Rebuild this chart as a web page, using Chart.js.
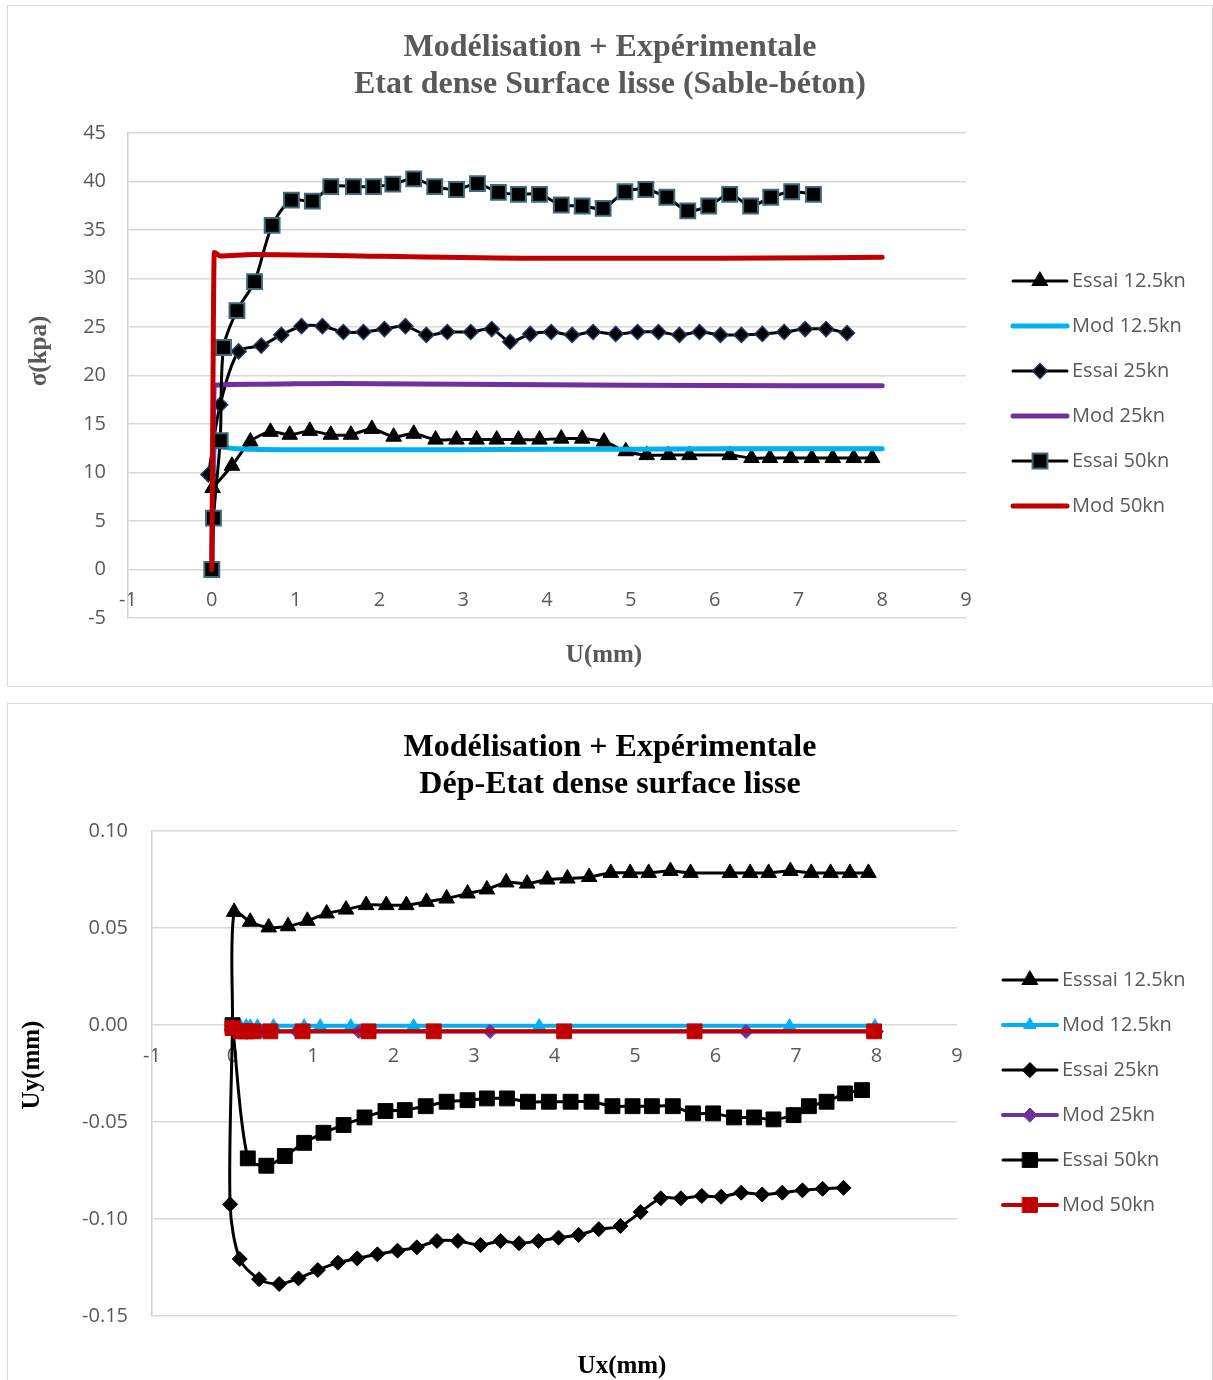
<!DOCTYPE html>
<html>
<head>
<meta charset="utf-8">
<script src="https://cdn.jsdelivr.net/npm/chart.js@4.4.1/dist/chart.umd.min.js"></script>
<style>
  html, body { margin: 0; padding: 0; background: #fff; overflow: hidden; width: 1213px; height: 1380px; }
  .panel { position: absolute; left: 7px; width: 1206px; box-sizing: border-box; border: 1px solid #d9d9d9; background: #fff; }
  #p1 { top: 5px; height: 682px; }
  #p2 { top: 703px; height: 700px; }
  canvas { display: block; }
</style>
</head>
<body>
<div class="panel" id="p1"><canvas id="c1" width="1204" height="680"></canvas></div>
<div class="panel" id="p2"><canvas id="c2" width="1204" height="676"></canvas></div>
<script>
// ---------- Contrainte σ (kPa) en fonction du déplacement U (mm) ----------
const sigEssai125X = [0.01, 0.24, 0.46, 0.70, 0.93, 1.17, 1.42, 1.66, 1.91, 2.17, 2.41, 2.67, 2.92, 3.16, 3.40, 3.66, 3.91, 4.17, 4.42, 4.68, 4.94, 5.19, 5.45, 5.70, 6.18, 6.44, 6.66, 6.91, 7.16, 7.41, 7.66, 7.88];
const sigEssai125Y = [8.4, 10.7, 13.2, 14.2, 13.9, 14.3, 13.9, 13.9, 14.5, 13.7, 14.0, 13.4, 13.4, 13.4, 13.4, 13.4, 13.4, 13.5, 13.5, 13.2, 12.2, 11.8, 11.8, 11.8, 11.8, 11.5, 11.5, 11.5, 11.5, 11.5, 11.5, 11.5];

const sigMod125X = [0, 0.03, 0.3, 1, 2, 3, 4, 5, 6, 7, 8];
const sigMod125Y = [0, 12.7, 12.45, 12.35, 12.35, 12.35, 12.4, 12.4, 12.45, 12.45, 12.45];

const sigEssai25X = [-0.04, 0.10, 0.32, 0.59, 0.83, 1.07, 1.32, 1.57, 1.81, 2.06, 2.31, 2.56, 2.81, 3.09, 3.34, 3.56, 3.80, 4.05, 4.30, 4.55, 4.82, 5.08, 5.33, 5.58, 5.82, 6.07, 6.32, 6.57, 6.83, 7.08, 7.33, 7.58];
const sigEssai25Y = [9.8, 17.0, 22.5, 23.1, 24.2, 25.1, 25.1, 24.5, 24.5, 24.8, 25.1, 24.2, 24.5, 24.5, 24.8, 23.5, 24.3, 24.5, 24.2, 24.5, 24.3, 24.5, 24.5, 24.2, 24.5, 24.2, 24.2, 24.3, 24.5, 24.8, 24.8, 24.4];

const sigMod25X = [0, 0.03, 0.5, 1.5, 3, 5, 7, 8];
const sigMod25Y = [0, 19.0, 19.1, 19.2, 19.1, 19.0, 18.95, 18.95];

const sigEssai50X = [0, 0.02, 0.10, 0.14, 0.30, 0.51, 0.72, 0.95, 1.20, 1.42, 1.69, 1.93, 2.16, 2.41, 2.66, 2.92, 3.17, 3.42, 3.66, 3.91, 4.17, 4.42, 4.67, 4.93, 5.18, 5.43, 5.68, 5.93, 6.18, 6.43, 6.67, 6.92, 7.18];
const sigEssai50Y = [0, 5.3, 13.3, 22.9, 26.7, 29.7, 35.5, 38.1, 38.0, 39.5, 39.5, 39.5, 39.75, 40.3, 39.5, 39.2, 39.8, 38.9, 38.7, 38.7, 37.6, 37.5, 37.25, 38.96, 39.2, 38.4, 37.0, 37.5, 38.7, 37.5, 38.4, 38.96, 38.7];

const sigMod50X = [0, 0.03, 0.1, 0.5, 2, 4, 6, 8];
const sigMod50Y = [0, 32.7, 32.35, 32.5, 32.3, 32.1, 32.1, 32.2];

const sigTickValues = [-5, 0, 5, 10, 15, 20, 25, 30, 35, 40, 45];
const sigTickLabels = ['-5', '0', '5', '10', '15', '20', '25', '30', '35', '40', '45'];
const uTickValues = [-1, 0, 1, 2, 3, 4, 5, 6, 7, 8, 9];
const uTickLabels = ['-1', '0', '1', '2', '3', '4', '5', '6', '7', '8', '9'];

// ---------- Déplacement vertical Uy (mm) en fonction de Ux (mm) ----------
const uyEssai125X = [0, 0.02, 0.22, 0.45, 0.69, 0.93, 1.17, 1.41, 1.66, 1.91, 2.16, 2.41, 2.66, 2.92, 3.16, 3.40, 3.66, 3.91, 4.16, 4.43, 4.70, 4.94, 5.17, 5.44, 5.69, 6.18, 6.43, 6.66, 6.93, 7.19, 7.43, 7.67, 7.90];
const uyEssai125Y = [0, 0.0584, 0.0533, 0.0504, 0.0510, 0.0538, 0.0576, 0.0596, 0.0619, 0.0619, 0.0619, 0.0636, 0.0653, 0.0679, 0.0700, 0.0736, 0.0730, 0.0751, 0.0756, 0.0764, 0.0785, 0.0785, 0.0785, 0.0795, 0.0785, 0.0785, 0.0785, 0.0785, 0.0795, 0.0785, 0.0785, 0.0785, 0.0785];

const uyMod125X = [0, 0.10, 0.17, 0.22, 0.31, 0.51, 0.89, 1.09, 1.47, 2.25, 3.81, 6.92, 7.98];
const uyMod125Y = [0, -0.0003, -0.0003, -0.0003, -0.0003, -0.0003, -0.0003, -0.0003, -0.0003, -0.0003, -0.0003, -0.0003, -0.0003];

const uyEssai25X = [0, -0.03, 0.09, 0.33, 0.58, 0.82, 1.06, 1.31, 1.55, 1.80, 2.05, 2.29, 2.54, 2.80, 3.08, 3.33, 3.56, 3.80, 4.05, 4.30, 4.55, 4.82, 5.07, 5.32, 5.57, 5.83, 6.07, 6.32, 6.58, 6.83, 7.08, 7.33, 7.59];
const uyEssai25Y = [0, -0.0924, -0.1206, -0.1310, -0.1335, -0.1306, -0.1263, -0.1225, -0.1203, -0.1182, -0.1163, -0.1146, -0.1113, -0.1113, -0.1134, -0.1113, -0.1125, -0.1113, -0.1096, -0.1082, -0.1052, -0.1036, -0.0964, -0.0893, -0.0893, -0.0881, -0.0885, -0.0864, -0.0873, -0.0864, -0.0852, -0.0844, -0.0839];

const uyMod25X = [0, 0.10, 0.20, 0.35, 0.80, 1.57, 3.20, 6.38, 8.0];
const uyMod25Y = [-0.0015, -0.0033, -0.0033, -0.0033, -0.0033, -0.0033, -0.0033, -0.0033, -0.0033];

const uyEssai50X = [0, 0.19, 0.42, 0.65, 0.89, 1.13, 1.38, 1.64, 1.90, 2.14, 2.40, 2.66, 2.92, 3.16, 3.41, 3.67, 3.93, 4.20, 4.46, 4.72, 4.97, 5.21, 5.47, 5.72, 5.97, 6.23, 6.48, 6.72, 6.97, 7.16, 7.38, 7.61, 7.82];
const uyEssai50Y = [0, -0.0687, -0.0725, -0.0675, -0.0607, -0.0555, -0.0515, -0.0476, -0.0443, -0.0438, -0.0418, -0.0395, -0.0387, -0.0378, -0.0378, -0.0395, -0.0395, -0.0395, -0.0395, -0.0418, -0.0418, -0.0418, -0.0418, -0.0455, -0.0455, -0.0476, -0.0476, -0.0486, -0.0464, -0.0418, -0.0395, -0.0352, -0.0335];

const uyMod50X = [0, 0.10, 0.17, 0.26, 0.47, 0.87, 1.69, 2.50, 4.12, 5.74, 7.97];
const uyMod50Y = [-0.0015, -0.0032, -0.0032, -0.0032, -0.0032, -0.0032, -0.0032, -0.0032, -0.0032, -0.0032, -0.0032];

const uyTickValues = [-0.15, -0.10, -0.05, 0, 0.05, 0.10];
const uyTickLabels = ['-0.15', '-0.10', '-0.05', '0.00', '0.05', '0.10'];
const uxTickValues = [-1, 0, 1, 2, 3, 4, 5, 6, 7, 8, 9];
const uxTickLabels = ['-1', '0', '1', '2', '3', '4', '5', '6', '7', '8', '9'];

// ---------- helpers ----------
const pts = (xs, ys) => xs.map((x, i) => ({ x: x, y: ys[i] }));
const TICK_FONT = { family: 'Open Sans', size: 20 };
const SERIF = '"Liberation Serif", "Times New Roman", serif';

function fixedTicks(values, labels) {
  return {
    afterBuildTicks: (scale) => { scale.ticks = values.map(v => ({ value: v })); },
    callback: (value) => {
      const i = values.findIndex(v => Math.abs(v - value) < 1e-9);
      return i >= 0 ? labels[i] : '';
    }
  };
}

function drawMarker(ctx, style, r, x, y) {
  if (window.Chart && Chart.helpers && Chart.helpers.drawPoint) {
    Chart.helpers.drawPoint(ctx, { pointStyle: style, radius: r, rotation: 0, borderWidth: ctx.lineWidth }, x, y);
    return;
  }
  ctx.beginPath();
  if (style === 'triangle') {
    ctx.moveTo(x, y - r); ctx.lineTo(x + r * 0.866, y + r / 2); ctx.lineTo(x - r * 0.866, y + r / 2);
  } else if (style === 'rectRot') {
    ctx.moveTo(x, y - r); ctx.lineTo(x + r, y); ctx.lineTo(x, y + r); ctx.lineTo(x - r, y);
  } else {
    const s = r * Math.SQRT1_2; ctx.rect(x - s, y - s, 2 * s, 2 * s);
  }
  ctx.closePath(); ctx.fill(); ctx.stroke();
}

// Side legend (line + marker + label) and axis titles, painted on the chart canvas
const panelText = {
  id: 'panelText',
  afterDraw(chart, args, opts) {
    const ctx = chart.ctx;
    ctx.save();
    (opts.titles || []).forEach(t => {
      ctx.save();
      ctx.translate(t.x, t.y);
      if (t.rotate) ctx.rotate(t.rotate);
      ctx.font = opts.titleFont;
      ctx.fillStyle = opts.titleColor;
      ctx.textAlign = 'center';
      ctx.textBaseline = 'middle';
      ctx.fillText(t.text, 0, 0);
      ctx.restore();
    });
    const L = opts.legend;
    chart.data.datasets.forEach((ds, i) => {
      const y = L.y + i * L.step;
      ctx.beginPath();
      ctx.lineCap = 'round';
      ctx.strokeStyle = ds.borderColor;
      ctx.lineWidth = ds.borderWidth;
      ctx.moveTo(L.x, y);
      ctx.lineTo(L.x + L.len, y);
      ctx.stroke();
      if (ds.pointRadius > 0) {
        ctx.fillStyle = ds.pointBackgroundColor;
        ctx.strokeStyle = ds.pointBorderColor;
        ctx.lineWidth = ds.pointBorderWidth;
        drawMarker(ctx, ds.pointStyle, ds.pointRadius, L.x + L.len / 2, y);
      }
      ctx.fillStyle = opts.color;
      ctx.font = opts.font;
      ctx.textAlign = 'left';
      ctx.textBaseline = 'middle';
      ctx.fillText(ds.label, L.x + L.len + L.gap, y);
    });
    ctx.restore();
  }
};

function series(label, xs, ys, color, width, marker) {
  const ds = {
    label: label,
    data: pts(xs, ys),
    showLine: true,
    borderColor: color,
    borderWidth: width,
    borderCapStyle: 'round',
    borderJoinStyle: 'round',
    pointRadius: 0,
    pointHoverRadius: 0,
    tension: marker ? 0.3 : 0,
    cubicInterpolationMode: marker ? 'default' : 'monotone'
  };
  if (marker) {
    ds.pointStyle = marker.style;
    ds.pointRadius = marker.r;
    ds.pointBackgroundColor = marker.fill;
    ds.pointBorderColor = marker.stroke;
    ds.pointBorderWidth = marker.bw;
  }
  return ds;
}

function withOrder(list) {
  // later series are painted over earlier ones
  list.forEach((d, i) => { d.order = list.length - 1 - i; });
  return list;
}

function makeChart(id, cfg) {
  const xT = fixedTicks(cfg.xTicks, cfg.xLabels);
  const yT = fixedTicks(cfg.yTicks, cfg.yLabels);
  return new Chart(document.getElementById(id), {
    type: 'scatter',
    data: { datasets: cfg.datasets },
    plugins: [panelText],
    options: {
      responsive: false,
      animation: false,
      devicePixelRatio: 1,
      events: [],
      layout: { padding: { left: 0, right: 0, top: 0, bottom: cfg.xAxisHeight } },
      plugins: {
        legend: { display: false },
        tooltip: { enabled: false },
        title: {
          display: true,
          text: cfg.title,
          color: cfg.textColor,
          font: { family: SERIF, size: 32, weight: 'bold', lineHeight: 1.16 },
          padding: cfg.titlePad
        },
        panelText: {
          legend: cfg.legend,
          titles: cfg.axisTitles,
          titleFont: 'bold 25px ' + SERIF,
          titleColor: cfg.textColor,
          font: '20px "Open Sans"',
          color: '#595959'
        }
      },
      scales: {
        x: {
          type: 'linear',
          position: { y: 0 },
          min: cfg.xTicks[0],
          max: cfg.xTicks[cfg.xTicks.length - 1],
          afterBuildTicks: xT.afterBuildTicks,
          ticks: { callback: xT.callback, padding: 19, color: '#595959', font: TICK_FONT, maxRotation: 0, autoSkip: false },
          grid: { display: false, drawTicks: false },
          border: { display: false }
        },
        y: {
          type: 'linear',
          position: 'left',
          min: cfg.yTicks[0],
          max: cfg.yTicks[cfg.yTicks.length - 1],
          afterBuildTicks: yT.afterBuildTicks,
          afterFit: (s) => { s.width = cfg.yAxisWidth; },
          ticks: { callback: yT.callback, padding: cfg.yPad, color: '#595959', font: TICK_FONT, autoSkip: false },
          grid: { color: '#d9d9d9', lineWidth: 1.5, drawTicks: false },
          border: { display: true, color: '#d0d0d0', width: 1.5 }
        },
        // empty right-hand band that keeps room for the side legend
        side: {
          type: 'linear',
          position: 'right',
          display: true,
          afterFit: (s) => { s.width = cfg.sideWidth; },
          ticks: { display: false },
          grid: { display: false, drawTicks: false },
          border: { display: false }
        }
      }
    }
  });
}

// ---------- chart 1 : σ = f(U) ----------
const triBlack = { style: 'triangle', r: 9, fill: '#000', stroke: '#000', bw: 1 };
const diaBlack1 = { style: 'rectRot', r: 7.5, fill: '#000', stroke: '#1f3864', bw: 1.5 };
const sqBlack1 = { style: 'rect', r: 10.5, fill: '#000', stroke: '#3d6b7a', bw: 2 };

makeChart('c1', {
  title: ['Modélisation + Expérimentale', 'Etat dense Surface lisse (Sable-béton)'],
  titlePad: { top: 23, bottom: 30 },
  textColor: '#595959',
  datasets: withOrder([
    series('Essai 12.5kn', sigEssai125X, sigEssai125Y, '#000000', 3, triBlack),
    series('Mod 12.5kn', sigMod125X, sigMod125Y, '#00b0f0', 5, null),
    series('Essai 25kn', sigEssai25X, sigEssai25Y, '#000000', 3, diaBlack1),
    series('Mod 25kn', sigMod25X, sigMod25Y, '#7030a0', 5, null),
    series('Essai 50kn', sigEssai50X, sigEssai50Y, '#000000', 3, sqBlack1),
    series('Mod 50kn', sigMod50X, sigMod50Y, '#c00000', 5, null)
  ]),
  xTicks: uTickValues, xLabels: uTickLabels,
  yTicks: sigTickValues, yLabels: sigTickLabels,
  sideWidth: 246, xAxisHeight: 68, yAxisWidth: 120, yPad: 22,
  legend: { x: 1005, y: 275, step: 45, len: 54, gap: 5 },
  axisTitles: [
    { text: 'σ(kpa)', x: 32, y: 345, rotate: -Math.PI / 2 },
    { text: 'U(mm)', x: 596, y: 650 }
  ]
});

// ---------- chart 2 : Uy = f(Ux) ----------
const triBlack2 = { style: 'triangle', r: 9, fill: '#000', stroke: '#000', bw: 1 };
const triBlue = { style: 'triangle', r: 7, fill: '#00b0f0', stroke: '#00b0f0', bw: 1 };
const diaBlack2 = { style: 'rectRot', r: 7.5, fill: '#000', stroke: '#000', bw: 1 };
const diaPurple = { style: 'rectRot', r: 7, fill: '#7030a0', stroke: '#7030a0', bw: 1 };
const sqBlack2 = { style: 'rect', r: 10.5, fill: '#000', stroke: '#000', bw: 1 };
const sqRed = { style: 'rect', r: 10.5, fill: '#c00000', stroke: '#c00000', bw: 1 };

makeChart('c2', {
  title: ['Modélisation + Expérimentale', 'Dép-Etat dense surface lisse'],
  titlePad: { top: 25, bottom: 28 },
  textColor: '#000000',
  datasets: withOrder([
    series('Esssai 12.5kn', uyEssai125X, uyEssai125Y, '#000000', 3, triBlack2),
    series('Mod 12.5kn', uyMod125X, uyMod125Y, '#00b0f0', 4, triBlue),
    series('Essai 25kn', uyEssai25X, uyEssai25Y, '#000000', 3, diaBlack2),
    series('Mod 25kn', uyMod25X, uyMod25Y, '#7030a0', 4, diaPurple),
    series('Essai 50kn', uyEssai50X, uyEssai50Y, '#000000', 3, sqBlack2),
    series('Mod 50kn', uyMod50X, uyMod50Y, '#c00000', 4, sqRed)
  ]),
  xTicks: uxTickValues, xLabels: uxTickLabels,
  yTicks: uyTickValues, yLabels: uyTickLabels,
  sideWidth: 255, xAxisHeight: 64, yAxisWidth: 144, yPad: 24,
  legend: { x: 995, y: 276, step: 45, len: 54, gap: 5 },
  axisTitles: [
    { text: 'Uy(mm)', x: 25, y: 361, rotate: -Math.PI / 2 },
    { text: 'Ux(mm)', x: 614, y: 663 }
  ]
});
</script>
</body>
</html>
